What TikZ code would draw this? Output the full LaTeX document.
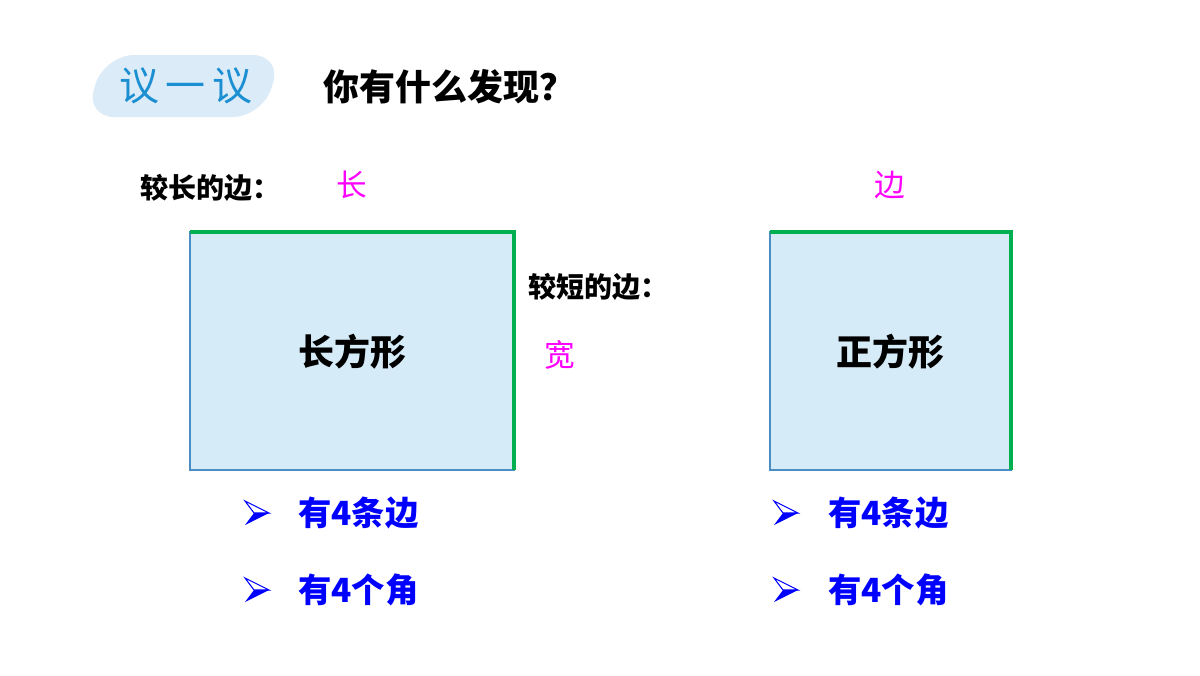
\documentclass[tikz,border=0pt]{standalone}
\usepackage{fontspec}
\newfontfamily\cjk{Noto Sans CJK SC}
\begin{document}
\begin{tikzpicture}[x=0.75pt,y=-0.75pt]
\definecolor{boxfill}{HTML}{D6EBF8}
\definecolor{boxline}{HTML}{4A8DC4}
\definecolor{gedge}{HTML}{00B050}
\definecolor{badge}{HTML}{DCEBF8}
\definecolor{badgetxt}{HTML}{1B8FD2}
\definecolor{mag}{HTML}{FF00FF}
\tikzset{
 lbl/.style={font=\cjk\bfseries\fontsize{21pt}{21pt}\selectfont,inner sep=0pt},
 ans/.style={font=\cjk\fontsize{23pt}{23pt}\selectfont,text=mag,inner sep=0pt},
 bul/.style={font=\cjk\bfseries\fontsize{25pt}{25pt}\selectfont,text=blue,anchor=west,inner sep=0pt},
 figbox/.style={fill=boxfill,draw=boxline,line width=1.5pt},
 gline/.style={draw=gedge,line width=3pt},
 title/.style={font=\cjk\bfseries\fontsize{27pt}{27pt}\selectfont,inner sep=0pt}
}
\useasboundingbox (0,0) rectangle (1200,675);
\fill[white] (0,0) rectangle (1200,675);
% badge
\fill[badge,rounded corners=22pt] (105,55) -- (282,55) -- (262,117) -- (85,117) -- cycle;
\node[font=\cjk\fontsize{30pt}{30pt}\selectfont,text=badgetxt] (badge) at (186,86) {议\,一\,议};
\node[title,anchor=west] (q) at (323,87) {你有什么发现？};
% rectangle
\draw[figbox] (190,232) rectangle (514,470);
\draw[gline] (190,232) -- (514,232) -- (514,470);
\node[title] (r) at (352,352) {长方形};
% square
\draw[figbox] (770,232) rectangle (1011,470);
\draw[gline] (770,232) -- (1011,232) -- (1011,470);
\node[title] (s) at (890,352) {正方形};
% labels
\node[lbl,anchor=west] (l1) at (140,188) {较长的边：};
\node[ans] (a1) at (352,185) {长};
\node[ans] (a2) at (890,185) {边};
\node[lbl,anchor=west] (l2) at (528,287) {较短的边：};
\node[ans] (a3) at (560,355) {宽};
% bullets
\foreach \x/\y in {245/513,245/590,774/513,774/590}{
  \fill[blue] (\x,\y+12) -- (\x+24,\y) -- (\x+9,\y) -- cycle;
  \draw[blue,line width=0.8pt] (\x,\y-12) -- (\x+24,\y) -- (\x+9,\y) -- cycle;
}
\node[bul] (b1) at (298,513) {有4条边};
\node[bul] (b2) at (298,590) {有4个角};
\node[bul] (b3) at (828,513) {有4条边};
\node[bul] (b4) at (828,590) {有4个角};
\end{tikzpicture}
\end{document}
